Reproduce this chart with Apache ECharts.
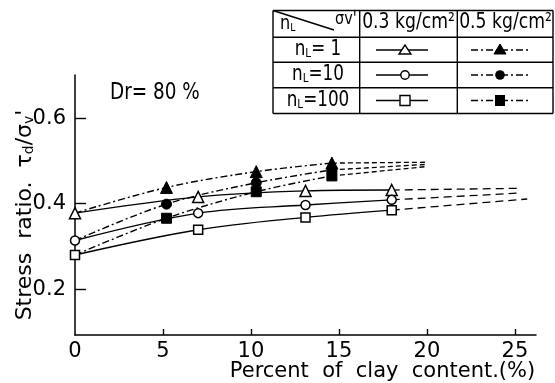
<!DOCTYPE html>
<html><head><meta charset="utf-8">
<script src="https://cdn.jsdelivr.net/npm/echarts@6/dist/echarts.min.js"></script>
<style>html,body{margin:0;padding:0;background:#fff}#c{width:555px;height:383px}</style>
</head><body><div id="c"></div>
<script>
const FONT = "'DejaVu Sans',sans-serif";
const xTicks = [0, 5, 10, 15, 20, 25];
const yTicks = [0.2, 0.4, 0.6];

// σv' = 0.3 kg/cm2 (open markers, solid lines)
const xOpen = [0, 7, 13.1, 18];
const open_n1 = [0.378, 0.416, 0.430, 0.432];
const open_n10 = [0.314, 0.378, 0.397, 0.409];
const open_n100 = [0.280, 0.339, 0.368, 0.385];
// dashed extrapolations
const openExt_n1 = [[18, 0.432], [25.3, 0.436]];
const openExt_n10 = [[18, 0.409], [25.3, 0.425]];
const openExt_n100 = [[18, 0.385], [25.7, 0.411]];

// σv' = 0.5 kg/cm2 (filled markers, dash-dot lines)
const xFilled = [0, 5.2, 10.3, 14.6];
const filled_n1 = [0.378, 0.438, 0.475, 0.495];
const filled_n10 = [0.314, 0.399, 0.449, 0.479];
const filled_n100 = [0.280, 0.366, 0.428, 0.465];
const filledExt_n1 = [[14.6, 0.495], [20, 0.497]];
const filledExt_n10 = [[14.6, 0.479], [20, 0.492]];
const filledExt_n100 = [[14.6, 0.465], [20, 0.487]];

const rowLabels = ['1', '10', '100'];
const colLabels = ['0.3 kg/cm²', '0.5 kg/cm²'];

function pts(xs, ys, firstNone) {
  return xs.map((x, i) => (firstNone && i === 0) ? {value: [x, ys[i]], symbol: 'none'} : [x, ys[i]]);
}
const DASHDOT = [7, 3, 2, 3];
function openSeries(name, ys, symbol, size) {
  return {name, type: 'line', data: pts(xOpen, ys), smooth: 0.35, symbol, symbolSize: size,
    itemStyle: {color: '#fff', borderColor: '#000', borderWidth: 1.5},
    lineStyle: {color: '#000', width: 1.4}, z: 4};
}
function filledSeries(name, ys, symbol, size) {
  return {name, type: 'line', data: pts(xFilled, ys, true), smooth: 0.35, symbol, symbolSize: size,
    itemStyle: {color: '#000', borderColor: '#000', borderWidth: 1},
    lineStyle: {color: '#000', width: 1.4, type: DASHDOT}, z: 3};
}
function extSeries(name, d, dash) {
  return {name, type: 'line', data: d, smooth: false, symbol: 'none',
    lineStyle: {color: '#000', width: 1.3, type: dash}, z: 2};
}

const chart = echarts.init(document.getElementById('c'));

// legend table graphics
const T = {l: 273, t: 10.5, r: 553, b: 113.5, c1: 359.7, c2: 457.3, rows: [37.3, 62.3, 87.7]};
const rowMid = [50, 75, 100.5];
const g = [];
const L = (x1, y1, x2, y2, dash) => g.push({type: 'line', shape: {x1, y1, x2, y2},
  style: {stroke: '#000', lineWidth: 1.4, lineDash: dash || null}, z: 10});
L(T.l, T.t, T.r, T.t); L(T.l, T.b, T.r, T.b); L(T.l, T.t, T.l, T.b); L(T.r, T.t, T.r, T.b);
L(T.c1, T.t, T.c1, T.b); L(T.c2, T.t, T.c2, T.b);
T.rows.forEach(y => L(T.l, y, T.r, y));
L(T.l, T.t, 334, 30);
g.push({type: 'text', x: 280, y: 34, scaleX: 0.85, z: 10, style: {text: '{n|n}{s|L}', verticalAlign: 'bottom', rich: {
  n: {fontFamily: FONT, fontSize: 19, fill: '#000'}, s: {fontFamily: FONT, fontSize: 11, fill: '#000', verticalAlign: 'bottom'}}}});
g.push({type: 'text', x: 335, y: 19.5, scaleX: 0.85, z: 10, style: {text: "σv'", fontFamily: FONT, fontSize: 17, fill: '#000', verticalAlign: 'middle'}});
colLabels.forEach((t, i) => g.push({type: 'text', z: 10, x: i === 0 ? 408.5 : 505.5, y: 23, scaleX: 0.82,
  style: {text: t, fontFamily: FONT, fontSize: 21, fill: '#000', align: 'center', verticalAlign: 'middle'}}));
rowLabels.forEach((t, i) => g.push({type: 'text', z: 10, x: 318, y: rowMid[i], scaleX: 0.8,
  style: {text: '{n|n}{s|L}{n|=' + (t === '1' ? ' ' : '') + t + '}', align: 'center', verticalAlign: 'middle', rich: {
    n: {fontFamily: FONT, fontSize: 21, fill: '#000'}, s: {fontFamily: FONT, fontSize: 13, fill: '#000', verticalAlign: 'bottom'}}}}));
rowMid.forEach((y, i) => {
  L(376, y, 428, y);
  L(471, y, 528, y, DASHDOT);
  const ox = 405, fx = 500;
  if (i === 0) {
    g.push({type: 'polygon', z: 11, shape: {points: [[ox, y - 5], [ox - 6, y + 4], [ox + 6, y + 4]]}, style: {fill: '#fff', stroke: '#000', lineWidth: 1.4}});
    g.push({type: 'polygon', z: 11, shape: {points: [[fx, y - 6], [fx - 6, y + 4], [fx + 6, y + 4]]}, style: {fill: '#000', stroke: '#000', lineWidth: 1}});
  } else if (i === 1) {
    g.push({type: 'circle', z: 11, shape: {cx: ox, cy: y, r: 4.2}, style: {fill: '#fff', stroke: '#000', lineWidth: 1.4}});
    g.push({type: 'circle', z: 11, shape: {cx: fx, cy: y, r: 4.8}, style: {fill: '#000'}});
  } else {
    g.push({type: 'rect', z: 11, shape: {x: ox - 5, y: y - 5, width: 10, height: 10}, style: {fill: '#fff', stroke: '#000', lineWidth: 1.4}});
    g.push({type: 'rect', z: 11, shape: {x: fx - 5, y: y - 5.5, width: 10, height: 11}, style: {fill: '#000'}});
  }
});
g.push({type: 'text', x: 110, y: 93, scaleX: 0.8, z: 10, style: {text: 'Dr= 80 %', fontFamily: FONT, fontSize: 23, fill: '#000', verticalAlign: 'middle'}});

chart.setOption({
  animation: false,
  backgroundColor: '#fff',
  grid: {left: 75, top: 75, right: 19, bottom: 48, containLabel: false, outerBoundsMode: 'none'},
  xAxis: {type: 'value', min: 0, max: 26.2, interval: 5,
    name: 'Percent  of  clay  content.(%)', nameLocation: 'middle', nameGap: 26, nameMoveOverlap: false,
    nameTextStyle: {fontFamily: FONT, fontSize: 21, color: '#000', padding: [0, 0, 0, 154]},
    axisLine: {show: true, onZero: false, lineStyle: {color: '#000', width: 1.5}},
    axisTick: {show: true, inside: true, length: 6, lineStyle: {color: '#000', width: 1.4}, customValues: xTicks.slice(1)},
    axisLabel: {customValues: xTicks, fontFamily: FONT, fontSize: 21, color: '#000', margin: 6},
    splitLine: {show: false}},
  yAxis: {type: 'value', min: 0.093, max: 0.701,
    name: "{a|Stress  ratio.  τ}{s|d}{a|/σ}{s|v}{a|'}", nameLocation: 'middle', nameGap: 39, nameRotate: 90, nameMoveOverlap: false,
    nameTextStyle: {padding: [0, 20, 0, 0], rich: {a: {fontFamily: FONT, fontSize: 22, color: '#000'}, s: {fontFamily: FONT, fontSize: 14, color: '#000', verticalAlign: 'bottom'}}},
    axisLine: {show: true, onZero: false, lineStyle: {color: '#000', width: 1.5}},
    axisTick: {show: true, inside: true, length: 11, lineStyle: {color: '#000', width: 1.4}, customValues: yTicks},
    axisLabel: {customValues: yTicks, fontFamily: FONT, fontSize: 21, color: '#000', margin: 9, formatter: v => v.toFixed(1)},
    splitLine: {show: false}},
  graphic: g,
  series: [
    openSeries('nL=1, 0.3 kg/cm²', open_n1, 'triangle', 11),
    openSeries('nL=10, 0.3 kg/cm²', open_n10, 'circle', 9),
    openSeries('nL=100, 0.3 kg/cm²', open_n100, 'rect', 9),
    extSeries('nL=1 ext 0.3', openExt_n1, [8, 5]),
    extSeries('nL=10 ext 0.3', openExt_n10, [8, 5]),
    extSeries('nL=100 ext 0.3', openExt_n100, [8, 5]),
    filledSeries('nL=1, 0.5 kg/cm²', filled_n1, 'triangle', 12),
    filledSeries('nL=10, 0.5 kg/cm²', filled_n10, 'circle', 10),
    filledSeries('nL=100, 0.5 kg/cm²', filled_n100, 'rect', 10),
    extSeries('nL=1 ext 0.5', filledExt_n1, [5, 3]),
    extSeries('nL=10 ext 0.5', filledExt_n10, [5, 3]),
    extSeries('nL=100 ext 0.5', filledExt_n100, [5, 3])
  ]
});
</script></body></html>
